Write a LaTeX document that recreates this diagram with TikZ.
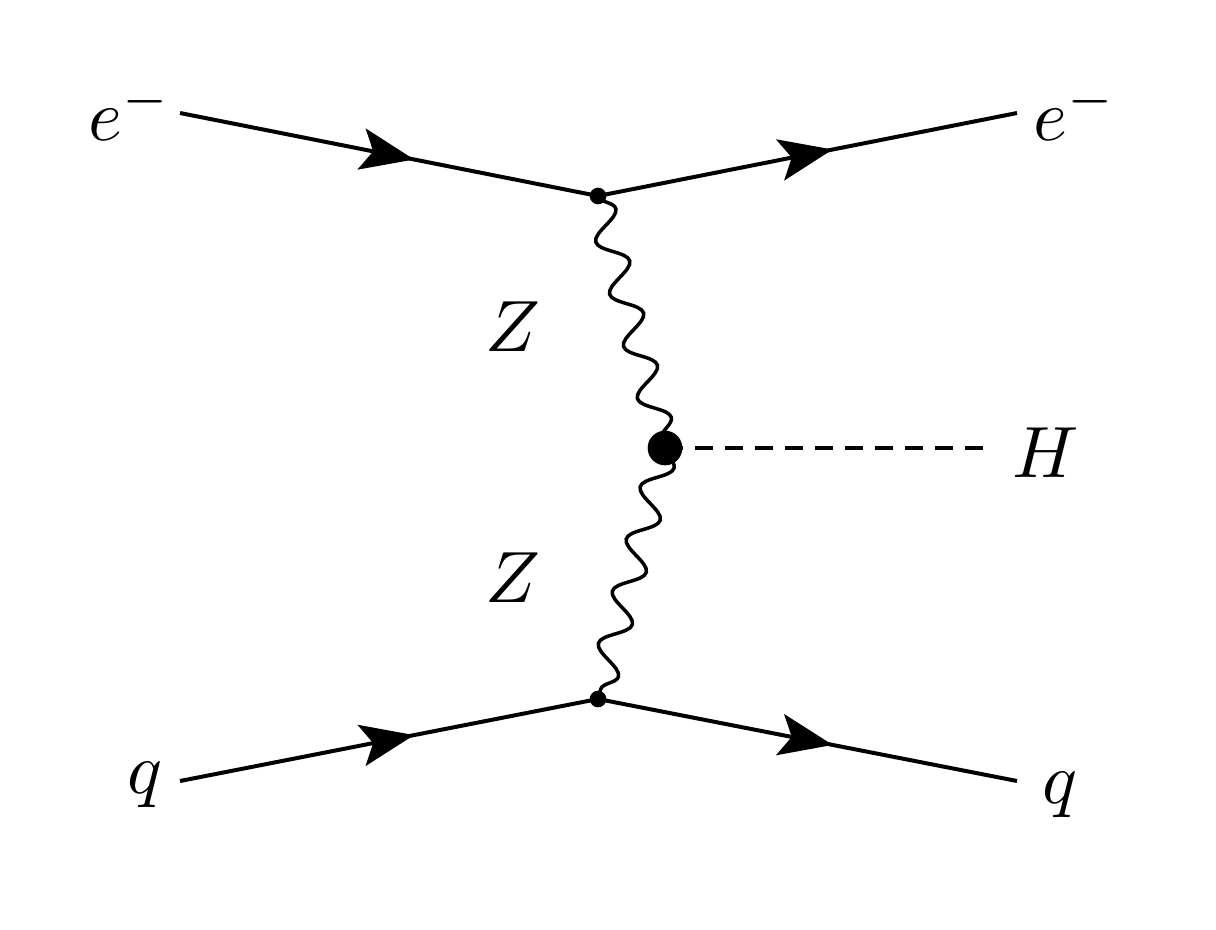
\documentclass[tikz,border=0pt]{standalone}
\usepackage{graphicx}
\usetikzlibrary{decorations.pathmorphing,decorations.markings,arrows.meta}
\newcommand{\biglbl}[1]{\scalebox{6.2}{$#1$}}
\begin{document}
\begin{tikzpicture}[x=0.03cm,y=-0.03cm,
  fermion/.style={line width=3.4pt,postaction={decorate},decoration={markings,mark=at position 0.56 with {\arrow{Stealth[length=1.6cm,width=1.25cm,inset=0.35cm]}}}},
  boson/.style={line width=3pt,decorate,decoration={snake,amplitude=0.42cm,segment length=1.62cm}},
  scalar/.style={line width=3pt,dash pattern=on 0.55cm off 0.35cm},
  lbl/.style={inner sep=0pt}]
\useasboundingbox (0,0) rectangle (1216,929);
\coordinate (a) at (180,113);
\coordinate (b) at (1017,113);
\coordinate (c) at (180,781);
\coordinate (d) at (1017,781);
\coordinate (v1) at (598,196);
\coordinate (v2) at (598,699);
\coordinate (vh) at (665,448);
\coordinate (h) at (995,448);
\draw[fermion] (a) -- (v1);
\draw[fermion] (v1) -- (b);
\draw[fermion] (c) -- (v2);
\draw[fermion] (v2) -- (d);
\draw[boson] (v1) -- (vh);
\draw[boson] (vh) -- (v2);
\draw[scalar] (vh) -- (h);
\fill (v1) circle (0.25cm);
\fill (v2) circle (0.25cm);
\fill (vh) circle (0.52cm);
\node[lbl] (l1) at (130,112) {\biglbl{e^-}};
\node[lbl] (l2) at (1075,112) {\biglbl{e^-}};
\node[lbl] (l3) at (145,785) {\biglbl{q}};
\node[lbl] (l4) at (1060,795) {\biglbl{q}};
\node[lbl] (l5) at (513,327) {\biglbl{Z}};
\node[lbl] (l6) at (513,578) {\biglbl{Z}};
\node[lbl] (l7) at (1046,453) {\biglbl{H}};
\end{tikzpicture}
\end{document}
